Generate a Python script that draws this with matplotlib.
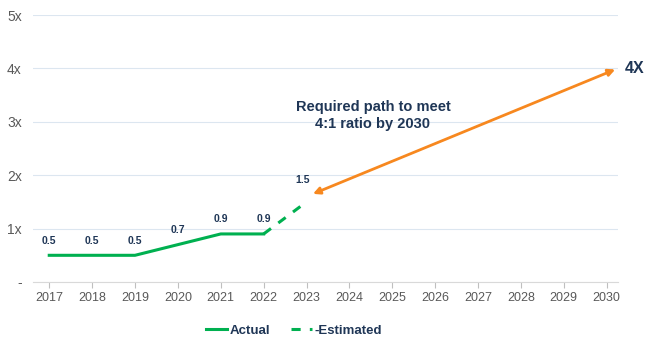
import matplotlib
matplotlib.use('Agg')
import matplotlib.pyplot as plt

plt.rcParams['font.family'] = ['Liberation Sans', 'DejaVu Sans']

years = [2017, 2018, 2019, 2020, 2021, 2022, 2023, 2024, 2025, 2026, 2027, 2028, 2029, 2030]
actual_years = [2017, 2018, 2019, 2020, 2021, 2022]
actual = [0.5, 0.5, 0.5, 0.7, 0.9, 0.9]
est_years = [2022, 2023]
estimated = [0.9, 1.5]
path_start = (2023.15, 1.65)
path_end = (2030.2, 3.98)
yticks = [0, 1, 2, 3, 4, 5]
ylabels = ['-', '1x', '2x', '3x', '4x', '5x']

green = '#00B050'
orange = '#F7881F'
navy = '#1F3656'
grey = '#595959'

fig = plt.figure(figsize=(6.46, 3.41), dpi=100)
ax = fig.add_axes([0.051, 0.173, 0.906, 0.783])

ax.plot(actual_years, actual, color=green, lw=2.2, label='Actual')
ax.plot(est_years, estimated, color=green, lw=2.2, ls=(0, (3, 3)), label='-Estimated')

for x, v in zip(actual_years, actual):
    ax.annotate(f'{v}', (x, v), xytext=(0, 7), textcoords='offset points',
                ha='center', va='bottom', fontsize=7.5, fontweight='bold', color=navy)
ax.annotate(f'{estimated[-1]}', (est_years[-1], estimated[-1]), xytext=(-3, 12),
            textcoords='offset points', ha='center', va='bottom',
            fontsize=7.5, fontweight='bold', color=navy)

ax.annotate('', xy=path_start, xytext=path_end,
            arrowprops=dict(arrowstyle='<|-|>', color=orange, lw=2,
                            mutation_scale=10, shrinkA=0, shrinkB=0))
ax.text(path_end[0] + 0.22, path_end[1] + 0.02, '4X', ha='left', va='center',
        fontsize=11.5, fontweight='bold', color=navy, clip_on=False)
ax.text(2024.55, 3.12, 'Required path to meet\n4:1 ratio by 2030', ha='center', va='center',
        fontsize=10.5, fontweight='bold', color=navy, linespacing=1.3)

ax.set_xlim(2016.62, 2030.27)
ax.set_ylim(0, 5)
ax.set_xticks(years)
ax.set_xticklabels([str(y) for y in years])
ax.set_yticks(yticks)
ax.set_yticklabels(ylabels)
ax.tick_params(axis='x', colors='#BFBFBF', labelcolor=grey, labelsize=9, length=4, width=0.8)
ax.tick_params(axis='y', labelcolor=grey, labelsize=10, length=0, pad=8)
ax.grid(axis='y', color='#DCE6F0', lw=0.8)
ax.set_axisbelow(True)
for s in ['top', 'right', 'left']:
    ax.spines[s].set_visible(False)
ax.spines['bottom'].set_color('#D9D9D9')

leg = fig.legend(loc='center', bbox_to_anchor=(0.455, 0.03), ncol=2, frameon=False,
                 handlelength=1.6, columnspacing=1.6, handletextpad=0.2,
                 prop={'weight': 'bold', 'size': 9.5})
for t in leg.get_texts():
    t.set_color(navy)

fig.savefig('out.png', dpi=100)
